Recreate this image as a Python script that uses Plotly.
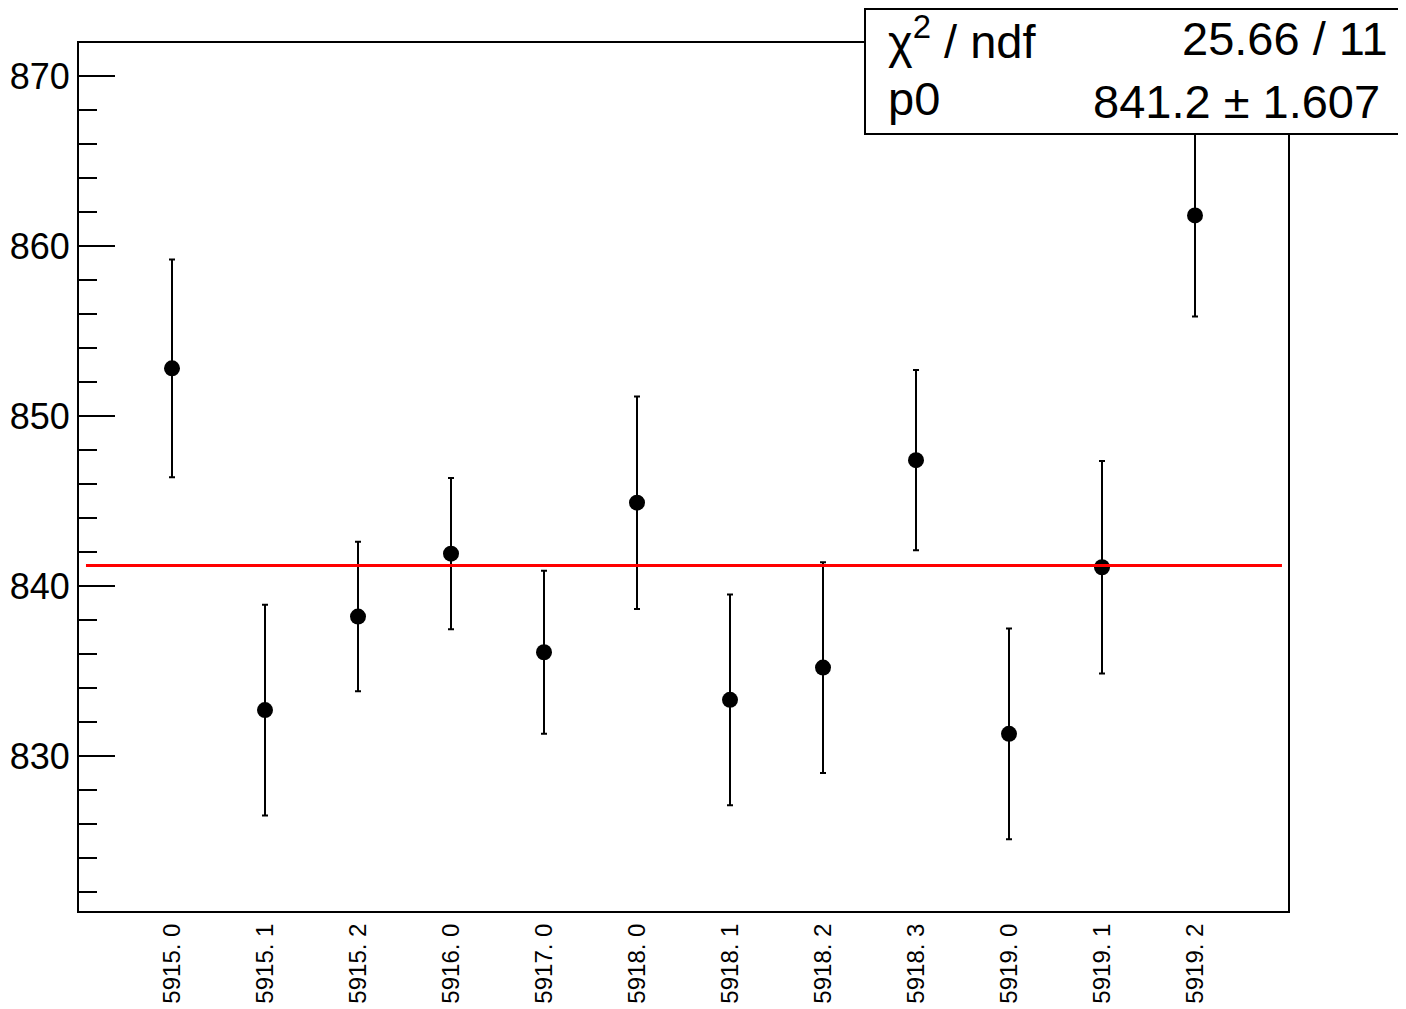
import plotly.graph_objects as go

# ---- data ----
run_labels = ["5915. 0", "5915. 1", "5915. 2", "5916. 0", "5917. 0", "5918. 0",
              "5918. 1", "5918. 2", "5918. 3", "5919. 0", "5919. 1", "5919. 2"]
bin_index = [1, 2, 3, 4, 5, 6, 7, 8, 9, 10, 11, 12]
values = [852.8, 832.7, 838.2, 841.9, 836.1, 844.9, 833.3, 835.2, 847.4, 831.3, 841.1, 861.8]
errors = [6.4, 6.2, 4.4, 4.45, 4.8, 6.25, 6.2, 6.2, 5.3, 6.2, 6.25, 5.95]
fit_p0 = 841.2
fit_range = [0.075, 12.935]
chi2_text = "25.66 / 11"
p0_text = "841.2 \u00b1 1.607"

FONT = "Liberation Sans, Arial, Helvetica, sans-serif"

# the page body has an 8px margin, so the figure sits at (8, 8)
OFF = 8
W, H = 1406 - OFF, 1009 - OFF
ML, MT = 79 - OFF, 43 - OFF
MR = (OFF + W) - 1288
MB = (OFF + H) - 911
PW = W - ML - MR
PH = H - MT - MB

fig = go.Figure()

fig.add_trace(go.Scatter(
    x=bin_index, y=values, mode="markers",
    marker=dict(color="black", size=16, symbol="circle"),
    error_y=dict(type="data", array=errors, visible=True,
                 color="black", thickness=2, width=3),
    showlegend=False, hoverinfo="skip",
))

fig.add_trace(go.Scatter(
    x=fit_range, y=[fit_p0, fit_p0], mode="lines",
    line=dict(color="red", width=3),
    showlegend=False, hoverinfo="skip",
))

fig.update_layout(
    width=W, height=H,
    margin=dict(l=ML, r=MR, t=MT, b=MB, autoexpand=False),
    paper_bgcolor="white", plot_bgcolor="white",
    font=dict(family=FONT, color="black"),
    xaxis=dict(
        range=[0, 13], tickmode="array", tickvals=bin_index, ticktext=run_labels,
        tickangle=-90, ticks="", showgrid=False, zeroline=False,
        showline=True, linecolor="black", linewidth=2, mirror=True,
        tickfont=dict(size=24, family=FONT, color="black"),
        ticklabelstandoff=1, automargin=False,
    ),
    yaxis=dict(
        range=[820.88, 871.94], tickmode="array", tickvals=[830, 840, 850, 860, 870],
        ticks="inside", ticklen=36, tickwidth=2, tickcolor="black",
        minor=dict(dtick=2, ticks="inside", ticklen=18, tickwidth=2, tickcolor="black", showgrid=False),
        showgrid=False, zeroline=False, automargin=False,
        showline=True, linecolor="black", linewidth=2, mirror=True,
        tickfont=dict(size=36, family=FONT, color="black"),
    ),
)

def px_x(p):
    return (p - 79) / PW

def px_y(p):
    return 1 - (p - 43) / PH

# stats box
fig.add_shape(type="rect", xref="paper", yref="paper",
              x0=px_x(865), x1=px_x(1412), y0=px_y(134), y1=px_y(9),
              line=dict(color="black", width=2), fillcolor="white", layer="above")

stats_font = dict(family=FONT, size=47, color="black")
fig.add_annotation(xref="paper", yref="paper", x=px_x(886), y=px_y(38),
                   text="\u03c7<sup>2</sup> / ndf", showarrow=False,
                   xanchor="left", yanchor="middle", font=stats_font)
fig.add_annotation(xref="paper", yref="paper", x=px_x(1390), y=px_y(39),
                   text=chi2_text, showarrow=False,
                   xanchor="right", yanchor="middle", font=stats_font)
fig.add_annotation(xref="paper", yref="paper", x=px_x(886), y=px_y(99),
                   text="p0", showarrow=False,
                   xanchor="left", yanchor="middle", font=stats_font)
fig.add_annotation(xref="paper", yref="paper", x=px_x(1382), y=px_y(101),
                   text=p0_text, showarrow=False,
                   xanchor="right", yanchor="middle", font=stats_font)

fig.write_html("out.html")
